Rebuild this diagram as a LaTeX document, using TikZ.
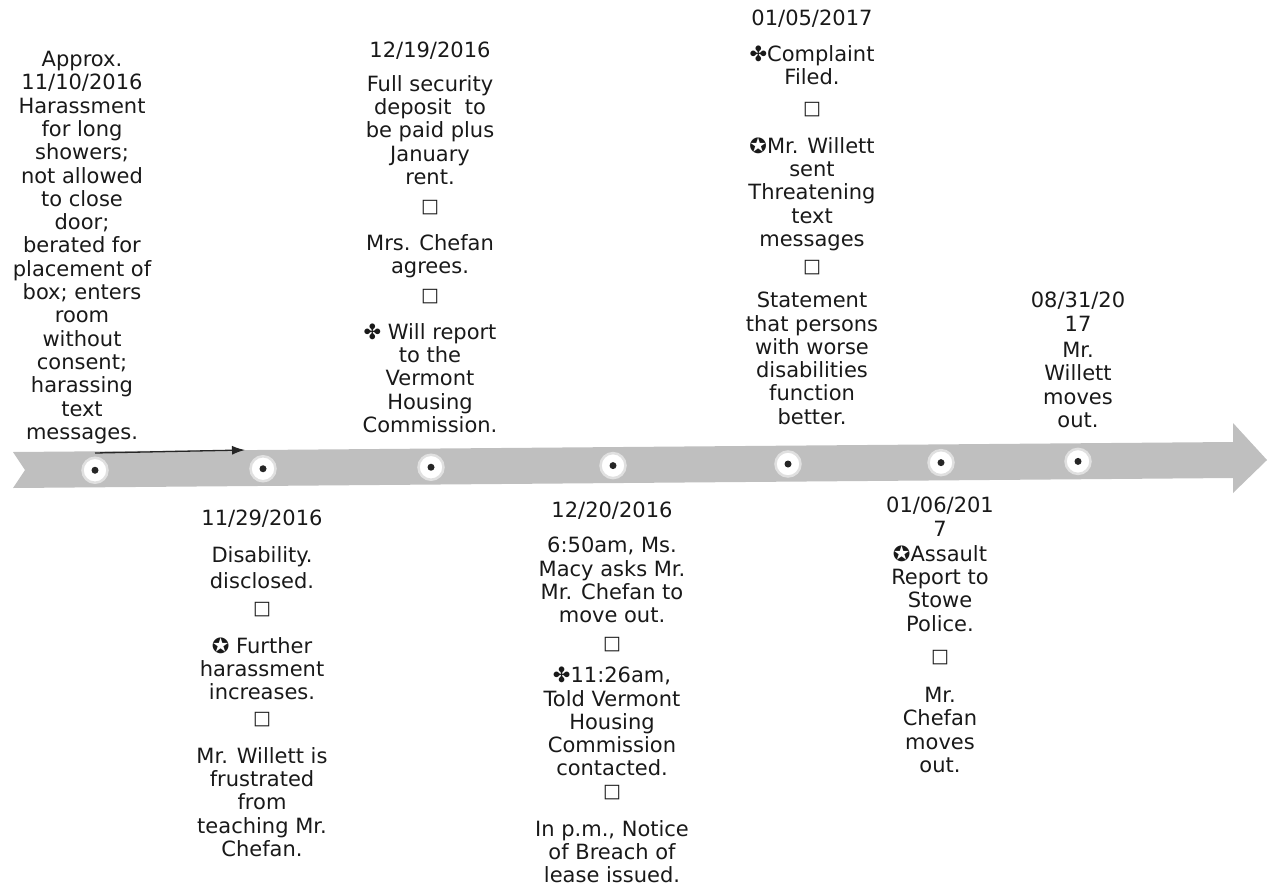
\documentclass[tikz,border=0pt]{standalone}
\usepackage{fontspec}
\setmainfont{DejaVu Sans}
\usepackage{tikz}
\usetikzlibrary{arrows.meta}

\tikzset{
    evt/.style={align=center, inner sep=0pt, anchor=north, text=black!90, font=\fontsize{21}{23.3}\selectfont},
    sep/.style={inner sep=0pt, text=black!90, font=\fontsize{19}{20}\selectfont},
    stopdot/.style={circle, fill=white, draw=black!12, line width=2.5pt, minimum size=25pt, inner sep=0pt}
}

\begin{document}
\begin{tikzpicture}[>={Latex[length=13pt,width=9pt]}, x=1pt, y=-1pt]
    \useasboundingbox (0,0) rectangle (1268,896);
    % Dải thời gian
    \fill[black!25] (13,452) -- (25,470) -- (13,488) -- (1233,478) -- (1233,493)
        -- (1267,460) -- (1233,423) -- (1233,442) -- cycle;
    \foreach \i/\x in {1/95, 2/263, 3/431, 4/613, 5/788, 6/941, 7/1078} {
        \node[stopdot] (stop\i) at (\x, {471-(\x-13)*11/1220}) {};
        \fill[black!85] (stop\i) circle (3.5pt);
    }
    \coordinate (p0) at (95,453);
    \coordinate (p1) at (245,450);
    \draw[->, line width=1.3pt, black!85] (p0) -- (p1);

    % Mốc 11/10/2016
    \node[evt] (a1) at (82,51) {Approx.\\11/10/2016\\Harassment\\for long\\showers;\\not allowed\\to close\\door;\\berated for\\placement of\\box; enters\\room\\without\\consent;\\harassing\\text\\messages.};

    % Mốc 12/19/2016
    \node[evt] (b0) at (430,42) {12/19/2016};
    \node[evt] (b1) at (430,75) {Full security\\deposit\ \ to\\be paid plus\\January\\rent.};
    \node[sep] (b2) at (430,208) {□};
    \node[evt] (b3) at (430,234) {Mrs. Chefan\\agrees.};
    \node[sep] (b4) at (430,297) {□};
    \node[evt] (b5) at (430,323) {✤ Will report\\to the\\Vermont\\Housing\\Commission.};

    % Mốc 01/05/2017
    \node[evt] (c0) at (812,10) {01/05/2017};
    \node[evt] (c1) at (812,45) {✤Complaint\\Filed.};
    \node[sep] (c2) at (812,110) {□};
    \node[evt] (c3) at (812,137) {✪Mr. Willett\\sent\\Threatening\\text\\messages};
    \node[sep] (c4) at (812,268) {□};
    \node[evt] (c5) at (812,292) {Statement\\that persons\\with worse\\disabilities\\function\\better.};

    % Mốc 08/31/2017
    \node[evt] (d0) at (1078,292) {08/31/20\\17};
    \node[evt] (d1) at (1078,342) {Mr.\\Willett\\moves\\out.};

    % Mốc 11/29/2016
    \node[evt] (e0) at (262,510) {11/29/2016};
    \node[evt] (e1) at (262,546) {Disability.};
    \node[evt] (e2) at (262,572) {disclosed.};
    \node[sep] (e3) at (262,610) {□};
    \node[evt] (e4) at (262,637) {✪ Further\\harassment\\increases.};
    \node[sep] (e5) at (262,720) {□};
    \node[evt] (e6) at (262,747) {Mr. Willett is\\frustrated\\from\\teaching Mr.\\Chefan.};

    % Mốc 12/20/2016
    \node[evt] (f0) at (612,502) {12/20/2016};
    \node[evt] (f1) at (612,537) {6:50am, Ms.\\Macy asks Mr.\\Mr. Chefan to\\move out.};
    \node[sep] (f2) at (612,645) {□};
    \node[evt] (f3) at (612,667) {✤11:26am,\\Told Vermont\\Housing\\Commission\\contacted.};
    \node[sep] (f4) at (612,793) {□};
    \node[evt] (f5) at (612,820) {In p.m., Notice\\of Breach of\\lease issued.};

    % Mốc 01/06/2017
    \node[evt] (g0) at (940,497) {01/06/201\\7};
    \node[evt] (g1) at (940,545) {✪Assault\\Report to\\Stowe\\Police.};
    \node[sep] (g2) at (940,658) {□};
    \node[evt] (g3) at (940,687) {Mr.\\Chefan\\moves\\out.};
\end{tikzpicture}
\end{document}
